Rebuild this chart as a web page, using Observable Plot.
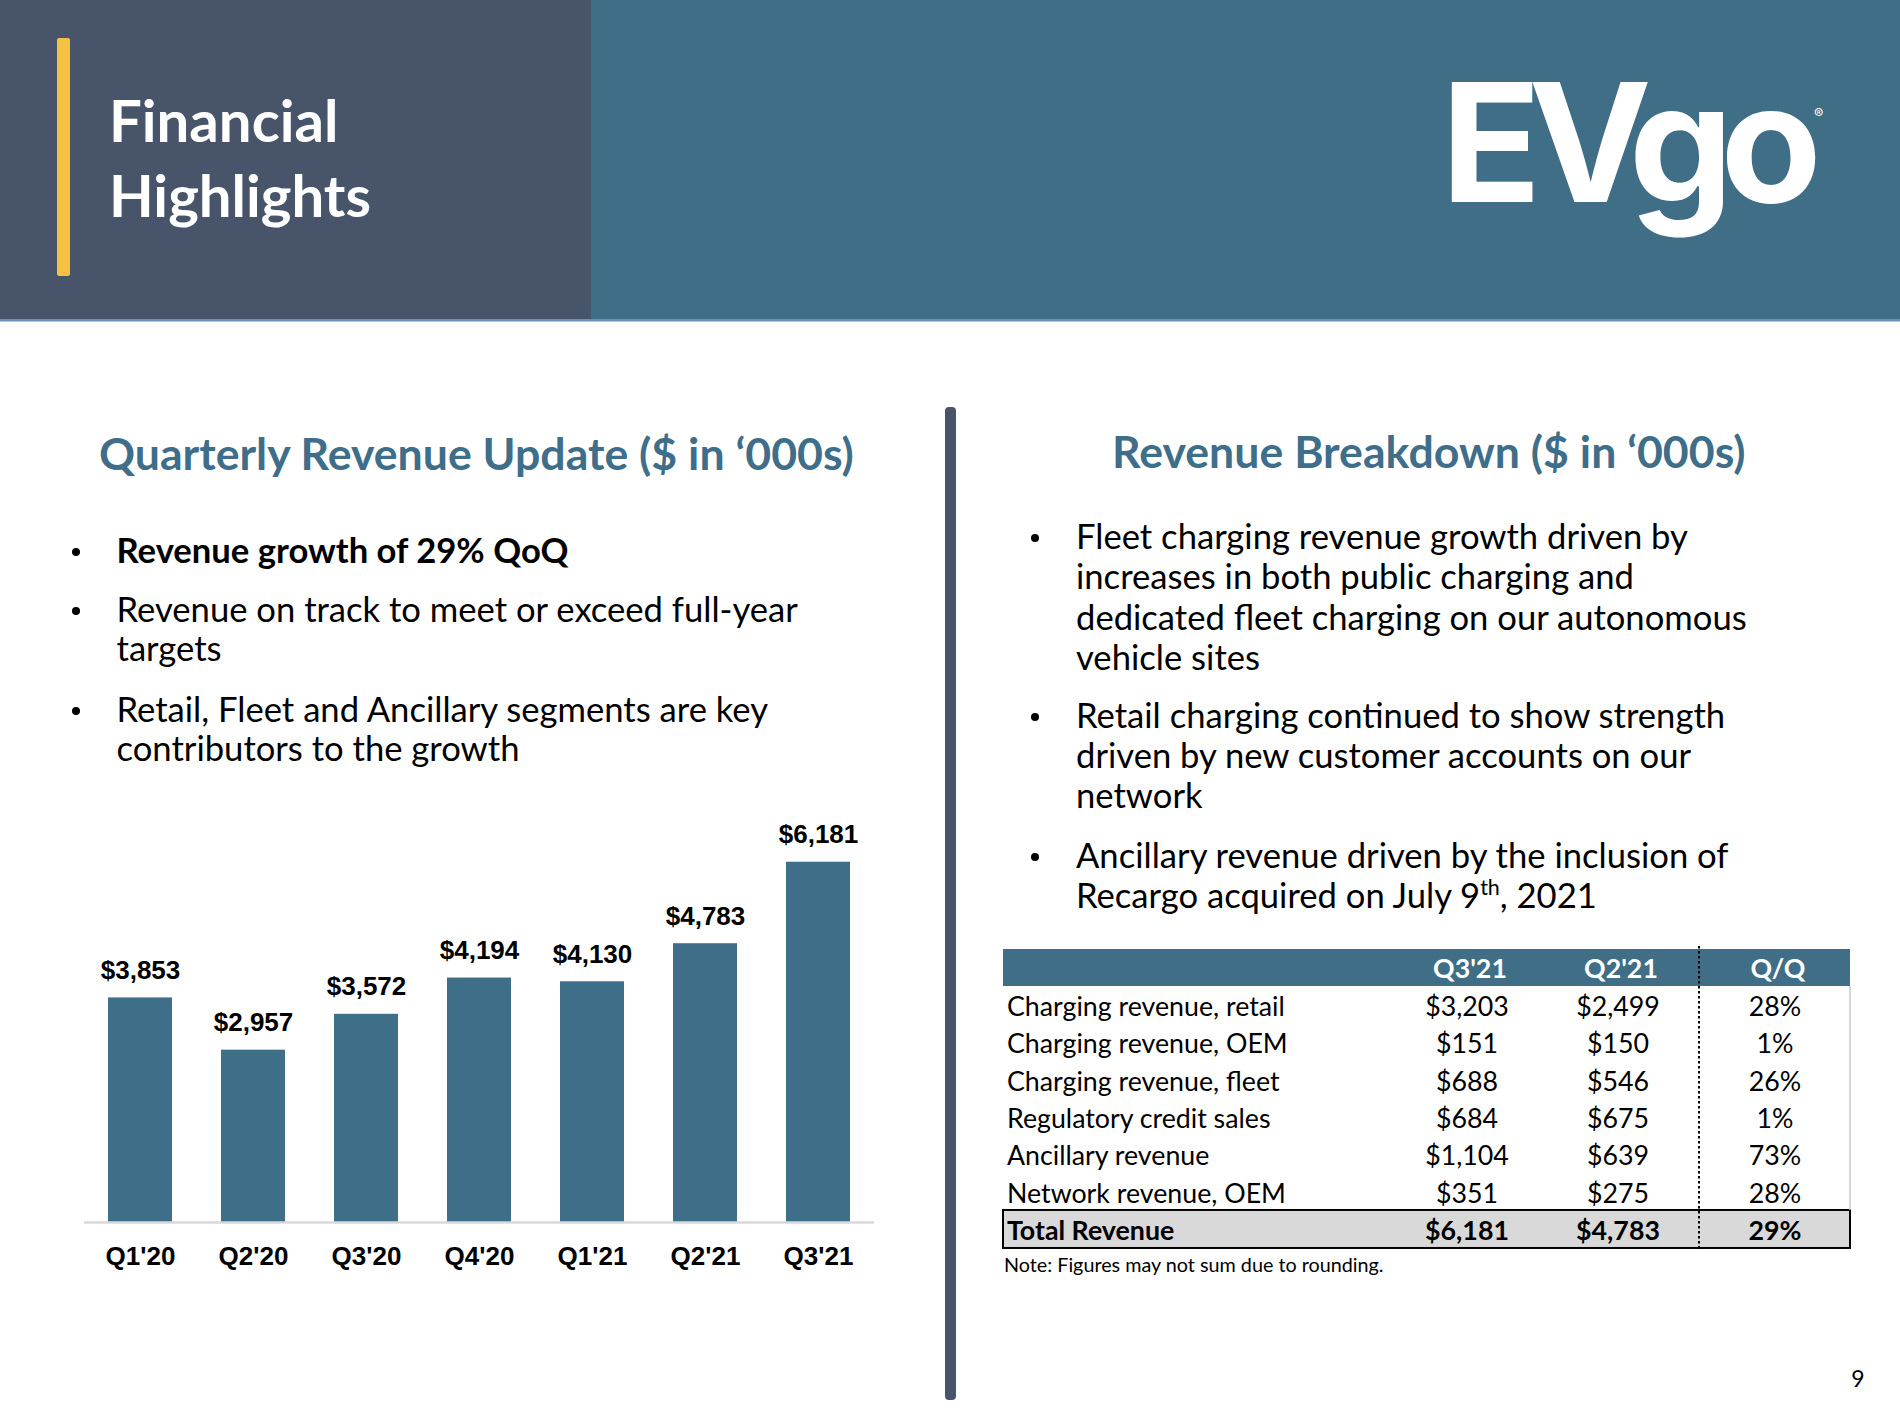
<!DOCTYPE html>
<html><head><meta charset="utf-8">
<script src="https://cdn.jsdelivr.net/npm/d3@7"></script>
<script src="https://cdn.jsdelivr.net/npm/@observablehq/plot@0.6"></script>
<style>
html,body{margin:0;padding:0;background:#fff;}
#page{position:relative;width:1900px;height:1428px;overflow:hidden;background:#fff;}
#deco{position:absolute;left:0;top:0;}
#chart{position:absolute;left:84px;top:800px;}
</style></head>
<body><div id="page"><svg id="deco" width="1900" height="1428"></svg><div id="chart"></div></div>
<script>
// ---------- data ----------
const quarters = ["Q1'20","Q2'20","Q3'20","Q4'20","Q1'21","Q2'21","Q3'21"];
const revenue = [3853,2957,3572,4194,4130,4783,6181];

const tableHeader = ["Q3'21","Q2'21","Q/Q"];
const rowLabels = ["Charging revenue, retail","Charging revenue, OEM","Charging revenue, fleet","Regulatory credit sales","Ancillary revenue","Network revenue, OEM"];
const q3Values = [3203,151,688,684,1104,351];
const q2Values = [2499,150,546,675,639,275];
const qoqValues = [28,1,26,1,73,28];
const totalLabel = "Total Revenue";
const totalQ3 = 6181, totalQ2 = 4783, totalQoQ = 29;

const pageTitle = ["Financial","Highlights"];
const leftTitle = "Quarterly Revenue Update ($ in \u2018000s)";
const rightTitle = "Revenue Breakdown ($ in \u2018000s)";
const leftBullets = [
  {bold:true, lines:["Revenue growth of 29% QoQ"]},
  {lines:["Revenue on track to meet or exceed full-year","targets"]},
  {lines:["Retail, Fleet and Ancillary segments are key","contributors to the growth"]}
];
const rightBullets = [
  {lines:["Fleet charging revenue growth driven by","increases in both public charging and","dedicated fleet charging on our autonomous","vehicle sites"]},
  {lines:["Retail charging continued to show strength","driven by new customer accounts on our","network"]},
  {lines:["Ancillary revenue driven by the inclusion of","Recargo acquired on July 9|th|, 2021"]}
];
const noteText = "Note: Figures may not sum due to rounding.";
const pageNumber = "9";

// ---------- helpers ----------
const BLUE = "#406e87", SLATE = "#475469", TBLUE = "#3f6e8a";
const ctx = document.createElement("canvas").getContext("2d");
function measure(text, weight, family, size){ctx.font = `${weight} ${size}px ${family}`; return ctx.measureText(text.replace(/\|/g,"")).width;}
function fit(text, weight, family, target){return 100*target/measure(text,weight,family,100);}
const LATO = "Lato";
const bodySize = (fit("Revenue on track to meet or exceed full-year",400,LATO,680)+fit("dedicated fleet charging on our autonomous",400,LATO,674))/2;
const titleSize = (fit(leftTitle,700,LATO,756)+fit(rightTitle,700,LATO,634))/2;
const headSize = fit("Highlights",700,LATO,262);
const tableSize = fit("Charging revenue, retail",400,LATO,278);
const noteSize = fit(noteText,400,LATO,380);

const svg = d3.select("#deco");
// header
svg.append("rect").attr("x",0).attr("y",0).attr("width",1900).attr("height",320).attr("fill",BLUE);
svg.append("rect").attr("x",0).attr("y",0).attr("width",591).attr("height",320).attr("fill",SLATE);
svg.append("rect").attr("x",0).attr("y",319).attr("width",1900).attr("height",2.5).attr("fill","#6a91bb");
svg.append("rect").attr("x",57).attr("y",38).attr("width",13).attr("height",238).attr("rx",2).attr("fill","#f4c142");
pageTitle.forEach((t,i)=>svg.append("text").attr("x",109).attr("y",142+75*i).attr("fill","#fff")
  .attr("font-family",LATO).attr("font-weight",700).attr("font-size",headSize).text(t));
// logo (letter-spacing chosen so the word spans ~368px)
const logoNat = measure("EVgo",700,"Inter",165);
const logoLS = Math.min(0,(368-logoNat)/4);
svg.append("text").attr("x",1441).attr("y",202).attr("fill","#fff").attr("font-family","Inter")
  .attr("font-weight",700).attr("font-size",165).attr("letter-spacing",logoLS).text("EVgo");
svg.append("text").attr("x",1814).attr("y",119).attr("fill","#fff").attr("font-family","Inter").attr("font-size",14).text("\u00ae");

// divider
svg.append("rect").attr("x",945).attr("y",407).attr("width",11).attr("height",993).attr("rx",4).attr("fill",SLATE);

// titles
svg.append("text").attr("x",99).attr("y",470).attr("fill",TBLUE).attr("font-family",LATO).attr("font-weight",700).attr("font-size",titleSize).text(leftTitle);
svg.append("text").attr("x",1112).attr("y",468).attr("fill",TBLUE).attr("font-family",LATO).attr("font-weight",700).attr("font-size",titleSize).text(rightTitle);

// bullets
function drawBullets(list, dotX, textX, baselines){
  let k = 0;
  list.forEach(b=>{
    svg.append("circle").attr("cx",dotX).attr("cy",baselines[k]-11).attr("r",4).attr("fill","#000");
    b.lines.forEach(line=>{
      const t = svg.append("text").attr("x",textX).attr("y",baselines[k]).attr("fill","#000")
        .attr("font-family",LATO).attr("font-weight",b.bold?700:400).attr("font-size",bodySize);
      const parts = line.split("|");
      if(parts.length===3){
        t.append("tspan").text(parts[0]);
        t.append("tspan").attr("font-size",bodySize*0.62).attr("dy",-bodySize*0.38).text(parts[1]);
        t.append("tspan").attr("dy",bodySize*0.38).text(parts[2]);
      } else t.text(line);
      k++;
    });
  });
}
drawBullets(leftBullets,76,116.5,[563,622,661,722,761]);
drawBullets(rightBullets,1035,1076,[549,589,630,670,728,768,808,868,908]);

// table
const T = {left:1003,right:1850,top:949,head:37,row:37.33};
const colX = [1007,1467,1618,1775];
svg.append("rect").attr("x",T.left).attr("y",T.top).attr("width",T.right-T.left).attr("height",T.head).attr("fill",BLUE);
tableHeader.forEach((h,i)=>svg.append("text").attr("x",colX[i+1]+3).attr("y",T.top+29).attr("text-anchor","middle")
  .attr("fill","#fff").attr("font-family",LATO).attr("font-weight",700).attr("font-size",tableSize).text(h));
const f = d3.format(",");
rowLabels.forEach((lab,i)=>{
  const y = T.top+T.head+i*T.row+30;
  const cells = [lab,"$"+f(q3Values[i]),"$"+f(q2Values[i]),qoqValues[i]+"%"];
  cells.forEach((c,j)=>svg.append("text").attr("x",colX[j]).attr("y",y).attr("text-anchor",j?"middle":"start")
    .attr("fill","#000").attr("font-family",LATO).attr("font-size",tableSize).text(c));
});
const totTop = T.top+T.head+6*T.row;
svg.append("rect").attr("x",T.left).attr("y",totTop).attr("width",T.right-T.left).attr("height",38).attr("fill","#d9d9d9")
  .attr("stroke","#000").attr("stroke-width",2);
[totalLabel,"$"+f(totalQ3),"$"+f(totalQ2),totalQoQ+"%"].forEach((c,j)=>svg.append("text").attr("x",colX[j]).attr("y",totTop+30)
  .attr("text-anchor",j?"middle":"start").attr("fill","#000").attr("font-family",LATO).attr("font-weight",700).attr("font-size",tableSize).text(c));
svg.append("line").attr("x1",T.right).attr("x2",T.right).attr("y1",T.top+T.head).attr("y2",totTop).attr("stroke","#c8c8c8").attr("stroke-width",1.5);
svg.append("line").attr("x1",1699).attr("x2",1699).attr("y1",T.top-3).attr("y2",totTop+39).attr("stroke","#000").attr("stroke-width",2).attr("stroke-dasharray","2.5 2.5");
svg.append("text").attr("x",1004).attr("y",1272).attr("fill","#000").attr("font-family",LATO).attr("font-size",noteSize).text(noteText);
svg.append("text").attr("x",1858).attr("y",1387).attr("text-anchor","middle").attr("fill","#000").attr("font-family",LATO).attr("font-size",23).text(pageNumber);

// ---------- bar chart ----------
const data = quarters.map((q,i)=>({quarter:q, value:revenue[i]}));
const chart = Plot.plot({
  width:791, height:480, marginLeft:0, marginRight:1, marginTop:14, marginBottom:58,
  style:{fontFamily:"'Liberation Sans', Arial, sans-serif", fontSize:"26px", fontWeight:"bold", color:"#000", background:"transparent", overflow:"visible"},
  x:{domain:quarters, paddingInner:0.433, paddingOuter:0.19, label:null},
  y:{domain:[0,7000], axis:null},
  marks:[
    Plot.barY(data,{x:"quarter", y:"value", fill:"#3f6e89"}),
    Plot.ruleY([0],{stroke:"#d9d9d9", strokeWidth:2.5}),
    Plot.text(data,{x:"quarter", y:"value", text:d=>"$"+f(d.value), lineAnchor:"bottom", dy:-19, fontSize:26, fontWeight:"bold", fill:"#000"}),
    Plot.axisX({tickSize:0, tickPadding:24, fontSize:26, fontWeight:"bold", fill:"#000", label:null})
  ]
});
document.getElementById("chart").appendChild(chart);
</script></body></html>
